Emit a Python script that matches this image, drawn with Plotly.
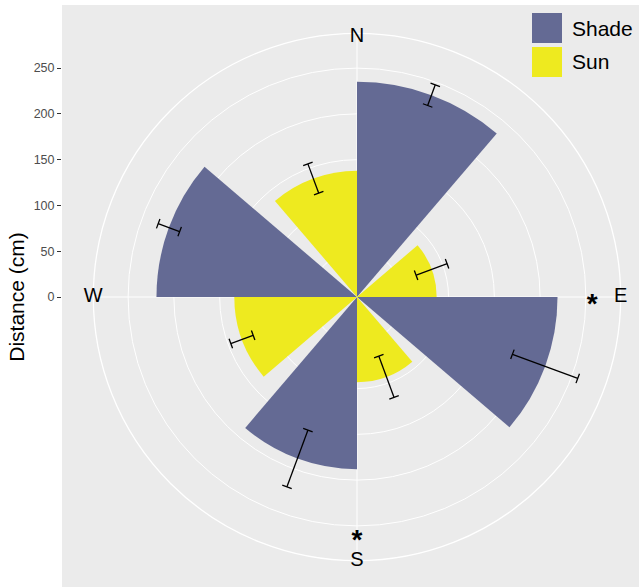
import math
import plotly.graph_objects as go

# ---------------- data ----------------
directions = ["N", "E", "S", "W"]
shade_mean = [235, 219, 188, 219]
shade_err = [12, 38, 33, 12.5]
sun_mean = [138, 87, 93, 134]
sun_err = [17, 18, 24, 13]
signif = ["", "*", "*", ""]
radial_ticks = [0, 50, 100, 150, 200, 250]
series_names = ["Shade", "Sun"]

# ---------------- style ----------------
SHADE = "#646A94"
SUN = "#EEEA1F"
PANEL = "#EBEBEB"
FONT = "Liberation Sans, Arial, sans-serif"
W, H = 639, 587
CX, CY, RAD = 357, 297, 263.7      # polar centre / radius in px
RMAX = 288                          # radial value at outer circle

n = len(directions)
step = 360 / n
dodge = 0.9 * step
bw = dodge / 2
theta_dir = [i * step for i in range(n)]
theta_shade = [t + bw / 2 for t in theta_dir]
theta_sun = [t - bw / 2 for t in theta_dir]

fig = go.Figure()

fig.add_trace(go.Barpolar(r=shade_mean, theta=theta_shade, width=[bw] * n,
                          marker=dict(color=SHADE, line=dict(width=0)),
                          name=series_names[0], showlegend=False))
fig.add_trace(go.Barpolar(r=sun_mean, theta=theta_sun, width=[bw] * n,
                          marker=dict(color=SUN, line=dict(width=0)),
                          name=series_names[1], showlegend=False))


def err_trace(means, errs, thetas):
    rr, tt = [], []
    cap_half = 5.5  # in radial units (~px/0.92)
    for m, e, th in zip(means, errs, thetas):
        lo, hi = m - e, m + e
        dlo = math.degrees(cap_half / lo)
        dhi = math.degrees(cap_half / hi)
        rr += [lo, hi, None, lo, lo, None, hi, hi, None]
        tt += [th, th, None, th - dlo, th + dlo, None, th - dhi, th + dhi, None]
    return go.Scatterpolar(r=rr, theta=tt, mode="lines",
                           line=dict(color="black", width=1.3),
                           hoverinfo="skip", showlegend=False)


fig.add_trace(err_trace(shade_mean, shade_err, theta_shade))
fig.add_trace(err_trace(sun_mean, sun_err, theta_sun))

# compass labels (slight radial nudge for N so glyph centres on the outer ring)
label_r = [RMAX - 4.5, RMAX, RMAX, RMAX]
fig.add_trace(go.Scatterpolar(r=label_r, theta=theta_dir, text=directions,
                              mode="text", textposition="middle center",
                              textfont=dict(size=20, color="black", family=FONT),
                              cliponaxis=False, hoverinfo="skip", showlegend=False))
# significance asterisks (annotation positions)
sig_pos = {"E": (257, 92.2), "S": (268, 180)}
sig_r, sig_theta, sig_text = [], [], []
for d, s in zip(directions, signif):
    if s:
        sig_r.append(sig_pos[d][0])
        sig_theta.append(sig_pos[d][1])
        sig_text.append("<b>" + s + "</b>")
fig.add_trace(go.Scatterpolar(r=sig_r, theta=sig_theta, text=sig_text,
                              mode="text", textposition="middle center",
                              textfont=dict(size=28, color="black", family=FONT),
                              cliponaxis=False, hoverinfo="skip", showlegend=False))

# dummy cartesian trace for the left distance axis
fig.add_trace(go.Scatter(x=[None], y=[None], xaxis="x", yaxis="y",
                         hoverinfo="skip", showlegend=False))

ydom = [(H - CY - RAD) / H, (H - CY + RAD) / H]
xdom = [(CX - RAD) / W, (CX + RAD) / W]

fig.update_layout(
    width=W, height=H, autosize=False,
    margin=dict(l=0, r=0, t=0, b=0),
    paper_bgcolor="white", plot_bgcolor="rgba(0,0,0,0)",
    font=dict(family=FONT),
    showlegend=False,
    polar=dict(
        domain=dict(x=xdom, y=ydom),
        bgcolor=PANEL,
        angularaxis=dict(direction="clockwise", rotation=90, thetaunit="degrees",
                         tickmode="array", tickvals=theta_dir, showticklabels=False,
                         ticks="", showgrid=True, gridcolor="white", gridwidth=1.3,
                         showline=True, linecolor="white", linewidth=1.3,
                         layer="below traces"),
        radialaxis=dict(range=[0, RMAX], tickmode="array", tickvals=radial_ticks[1:],
                        showticklabels=False, ticks="", showline=False,
                        showgrid=True, gridcolor="white", gridwidth=1.3,
                        layer="below traces"),
    ),
    xaxis=dict(domain=[62 / W, 1], visible=False, range=[0, 1], fixedrange=True),
    yaxis=dict(domain=ydom, range=[-RMAX, RMAX], tickmode="array", tickvals=radial_ticks,
               ticks="outside", ticklen=4, tickwidth=1.1, tickcolor="#333333",
               tickfont=dict(size=12.5, color="#4D4D4D", family=FONT),
               showgrid=False, zeroline=False, showline=False, fixedrange=True,
               title=dict(text="Distance (cm)", font=dict(size=21, color="black", family=FONT),
                          standoff=3)),
    shapes=[
        dict(type="rect", xref="paper", yref="paper", x0=62 / W, x1=1,
             y0=0, y1=(H - 5) / H, fillcolor=PANEL, line=dict(width=0), layer="below"),
        # legend keys
        dict(type="rect", xref="paper", yref="paper", x0=532 / W, x1=562 / W,
             y0=(H - 43) / H, y1=(H - 13) / H, fillcolor=SHADE, line=dict(width=0)),
        dict(type="rect", xref="paper", yref="paper", x0=532 / W, x1=562 / W,
             y0=(H - 77) / H, y1=(H - 47) / H, fillcolor=SUN, line=dict(width=0)),
    ],
    annotations=[
        dict(text=series_names[0], xref="paper", yref="paper", x=570 / W, y=(H - 28) / H,
             xanchor="left", yanchor="middle", showarrow=False,
             font=dict(size=21, color="black", family=FONT)),
        dict(text=series_names[1], xref="paper", yref="paper", x=570 / W, y=(H - 62) / H,
             xanchor="left", yanchor="middle", showarrow=False,
             font=dict(size=21, color="black", family=FONT)),
    ],
)

fig.write_html("out.html", config={"displayModeBar": False},
               post_script="document.body.style.margin='0';")
